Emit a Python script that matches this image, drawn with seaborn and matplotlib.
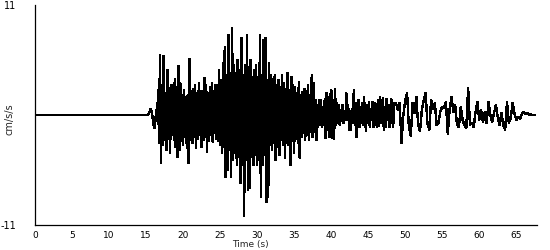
import numpy as np
import pandas as pd
import matplotlib
matplotlib.use("Agg")
import matplotlib.pyplot as plt
import seaborn as sns

# ---- data (acceleration, cm/s/s) ----
# quiet pre-event part
flat_time = [0.0, 15.25]
flat_accel = [0.0, 0.0]

# P-wave onset, 15.25 s - 16.5 s
onset_accel = [0.1, 0.4, 0.6, 0.3, -0.2, -0.9, -1.3, -0.6, 0.5, -0.4]

# strong-motion part, 16.5 s - 38.5 s (0.125 s step)
strong_accel = [
    2.5, -2.8, 6.0, -4.8, 3.0, -3.0, 5.9, -2.5,
    2.2, -3.5, 4.5, -2.4, 2.7, -3.8, 3.0, -2.0,
    3.0, -2.5, 3.6, -3.2, 2.8, -4.2, 4.9, -3.5,
    3.2, -2.6, 2.0, -3.0, 2.5, -2.2, 1.8, -3.3,
    2.0, -4.8, 5.6, -2.5, 2.4, -2.8, 2.6, -2.2,
    3.0, -3.3, 2.2, -2.4, 3.2, -2.0, 2.4, -3.2,
    2.4, -2.5, 3.7, -2.2, 3.0, -3.7, 2.2, -2.6,
    2.8, -2.0, 3.2, -2.7, 2.4, -1.8, 3.0, -2.4,
    3.0, -2.6, 4.5, -3.0, 3.5, -3.8, 5.2, -3.2,
    6.8, -6.2, 4.0, -5.5, 8.0, -3.5, 4.2, -6.2,
    8.7, -4.5, 5.0, -3.8, 4.2, -5.0, 5.5, -4.2,
    4.5, -6.8, 7.7, -5.0, 4.0, -10.1, 5.0, -4.0,
    8.0, -7.5, 4.8, -7.3, 5.5, -4.2, 3.8, -5.0,
    4.5, -4.0, 5.0, -5.0, 3.8, -4.5, 8.0, -8.2,
    4.0, -5.0, 7.5, -4.0, 7.7, -8.7, 3.5, -8.2,
    5.2, -3.0, 4.0, -3.5, 3.6, -2.8, 4.0, -4.5,
    3.0, -3.2, 3.5, -4.0, 2.8, -2.5, 4.0, -3.0,
    3.2, -4.3, 2.6, -2.8, 4.2, -3.0, 2.5, -5.0,
    3.8, -2.6, 3.0, -3.8, 2.8, -2.4, 2.2, -2.8,
    3.3, -4.3, 2.0, -2.2, 2.3, -1.8, 2.6, -2.5,
    2.4, -2.0, 3.0, -2.5, 2.0, -1.7, 4.0, -2.2,
    3.2, -1.7, 1.5, -2.5, 1.0, -1.2, 1.5, -1.0,
]

# early coda, 38.5 s - 48.5 s (about 0.125 s step)
early_coda_accel = [
    1.5, -1.2, 0.8, -1.0, 1.6,
    -2.3, 2.2, -1.5, 1.8, -2.2, 2.0,
    2.5, -2.3, 1.5, -2.4, 2.6, -1.0,
    1.2, -0.8, 1.0, -1.0, 0.5, -0.6, 1.0, -0.8, 0.3, -0.5,
    2.2, -0.5, 1.0, -1.5, 0.4,
    -1.5, 0.6, -0.8, 2.5, -1.0, 1.2, -2.2,
    0.4, 1.5, -1.2, 0.8, -0.8, 1.2, -1.0, 1.8, -0.6,
    -1.6, 1.0, -0.8, 1.3, -1.2, 0.6, -0.5,
    1.3, -1.2, 1.2, -1.0, 1.1, -1.2, 1.5, -1.1, 1.8, -0.8, 0.6,
    1.7, -1.5, 0.8, -1.2, 1.6, -0.5, 1.0, -1.2, 0.4,
    1.6, -0.5, -1.2, 1.2,
]

# late coda, 48.5 s - 67.5 s (0.25 s step)
late_coda_accel = [
    1.2, 0.5, 1.2, -2.8, 0.0, 1.5, 2.2, -1.2, -2.1, 1.2,
    0.2, 1.8, -1.0, -1.6, 0.5, 1.5, 2.2, -0.8, -1.5, 1.5,
    0.6, 1.2, -1.0, -0.8, 0.4, 0.8, 0.7, 1.3, -1.9, 0.6,
    1.8, 0.3, 1.0, -1.0, -1.2, 0.8, -0.5, -1.0, -1.3, 2.7,
    -1.0, -0.8, -1.2, 0.3, 1.3, -0.5, 0.5, -0.7, 0.3, -0.8,
    1.3, 0.0, -0.7, 0.2, 1.0, -0.2, -1.0, 0.2, -1.0, -1.5,
    1.3, -0.8, -0.3, 1.2, 0.2, -0.5, -0.2, -0.4, 0.1, 0.3,
    0.1, 0.2, 0.0, 0.05, 0.0, 0.0,
]

x_ticks = [0, 5, 10, 15, 20, 25, 30, 35, 40, 45, 50, 55, 60, 65]
y_ticks = [-11, 11]
y_tick_labels = ["-11", "11"]

# ---- assemble ----
def seg_time(start, end, values):
    return np.linspace(start, end, len(values) + 1)[1:]

df = pd.DataFrame({
    "Time (s)": np.concatenate([
        flat_time,
        seg_time(15.25, 16.5, onset_accel),
        seg_time(16.5, 38.5, strong_accel),
        seg_time(38.5, 48.5, early_coda_accel),
        seg_time(48.5, 67.5, late_coda_accel),
    ]),
    "cm/s/s": np.concatenate([flat_accel, onset_accel, strong_accel,
                              early_coda_accel, late_coda_accel]),
})

sns.set_style("white")
plt.rcParams["font.family"] = ["DejaVu Sans"]

fig = plt.figure(figsize=(5.5, 2.5), dpi=100)
ax = fig.add_axes([35 / 550, 25 / 250, 502 / 550, 220 / 250])

sns.lineplot(data=df, x="Time (s)", y="cm/s/s", ax=ax, color="black",
             linewidth=1.0, estimator=None, sort=False, antialiased=False)

ax.set_xlim(0, 67.8)
ax.set_ylim(-11, 11)
ax.set_xticks(x_ticks)
ax.set_xticklabels([str(v) for v in x_ticks], fontsize=6.5)
ax.set_yticks(y_ticks)
ax.set_yticklabels(y_tick_labels, fontsize=7)
ax.tick_params(axis="x", direction="out", length=3, width=0.8,
               color="black", pad=1, labelcolor="black")
ax.tick_params(axis="y", direction="out", length=3.6, width=0.8,
               color="black", pad=10, labelcolor="black")
# no tick mark at the top value
ax.yaxis.get_major_ticks()[1].tick1line.set_visible(False)

for s in ["top", "right"]:
    ax.spines[s].set_visible(False)
for s in ["left", "bottom"]:
    ax.spines[s].set_color("black")
    ax.spines[s].set_linewidth(0.9)

ax.set_xlabel("Time (s)", fontsize=6.5, va="top")
ax.set_ylabel("cm/s/s", fontsize=7)
ax.xaxis.set_label_coords((250 - 35) / 502, -0.066)
ax.yaxis.set_label_coords((15 - 35) / 502, 0.48)

fig.savefig("out.png", dpi=100, facecolor="white")
